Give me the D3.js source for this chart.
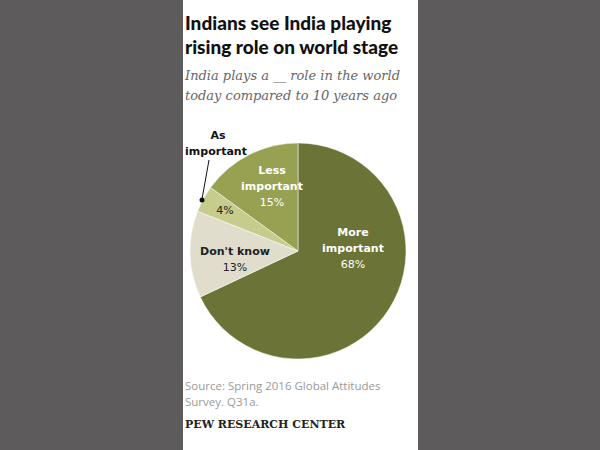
<!DOCTYPE html><html><head><meta charset="utf-8">
<script src="https://cdn.jsdelivr.net/npm/d3@7"></script>
<style>body{margin:0;background:#5d5b5c}</style></head><body>
<script>
const categories=["More important","Don't know","As important","Less important"];
const values=[68,13,4,15];
const colors=["#6b7336","#e0ddcc","#c6cd8c","#98a152"];
const svg=d3.select("body").append("svg").attr("width",600).attr("height",450);
svg.append("rect").attr("width",600).attr("height",450).attr("fill","#5d5b5c");
svg.append("rect").attr("x",183).attr("width",235).attr("height",450).attr("fill","#fff");
const t=svg.append("g").attr("font-family","Lato, 'Open Sans', sans-serif");
t.append("text").attr("x",185).attr("y",30).attr("font-size",19).attr("font-weight",900).attr("fill","#111").text("Indians see India playing");
t.append("text").attr("x",185).attr("y",54).attr("font-size",19).attr("font-weight",900).attr("fill","#111").text("rising role on world stage");
const st=svg.append("g").attr("font-family","'DejaVu Serif', serif").attr("font-style","italic").attr("font-size",13).attr("fill","#666");
st.append("text").attr("x",185).attr("y",80).text("India plays a __ role in the world");
st.append("text").attr("x",185).attr("y",100).text("today compared to 10 years ago");
const cx=298,cy=251,r=108;
const pie=d3.pie().sort(null)(values);
const arc=d3.arc().innerRadius(0).outerRadius(r);
const g=svg.append("g").attr("transform",`translate(${cx},${cy})`);
g.selectAll("path").data(pie).enter().append("path").attr("d",arc).attr("fill",(d,i)=>colors[i]).attr("stroke","#fff").attr("stroke-width",0.5);
const lab=svg.append("g").attr("font-family","Verdana, 'DejaVu Sans', sans-serif").attr("text-anchor","middle").attr("font-size",11);
function L(x,y,lines,pct,fill){lines.forEach((s,k)=>lab.append("text").attr("x",x).attr("y",y+k*16).attr("font-weight",700).attr("fill",fill).text(s));
 lab.append("text").attr("x",x).attr("y",y+lines.length*16).attr("fill",fill).text(pct);}
L(353,236,["More","important"],values[0]+"%","#fff");
L(235,255,["Don't know"],values[1]+"%","#222");
L(272,174,["Less","important"],values[3]+"%","#fff");
lab.append("text").attr("x",225).attr("y",214).attr("fill","#222").text(values[2]+"%");
L(218,139,["As"],"", "#111");
lab.append("text").attr("x",216).attr("y",155).attr("font-weight",700).attr("fill","#111").text("important");
svg.append("line").attr("x1",209).attr("y1",160).attr("x2",202).attr("y2",199).attr("stroke","#111");
svg.append("circle").attr("cx",202).attr("cy",200).attr("r",2.5).attr("fill","#111");
const s=svg.append("g").attr("font-family","'Open Sans', sans-serif").attr("font-size",11.5).attr("fill","#999");
s.append("text").attr("x",185).attr("y",390).text("Source: Spring 2016 Global Attitudes");
s.append("text").attr("x",185).attr("y",406).text("Survey. Q31a.");
svg.append("text").attr("x",185).attr("y",428).attr("font-family","'DejaVu Serif', serif").attr("font-size",11).attr("font-weight",700).attr("fill","#222").text("PEW RESEARCH CENTER");
</script></body></html>
